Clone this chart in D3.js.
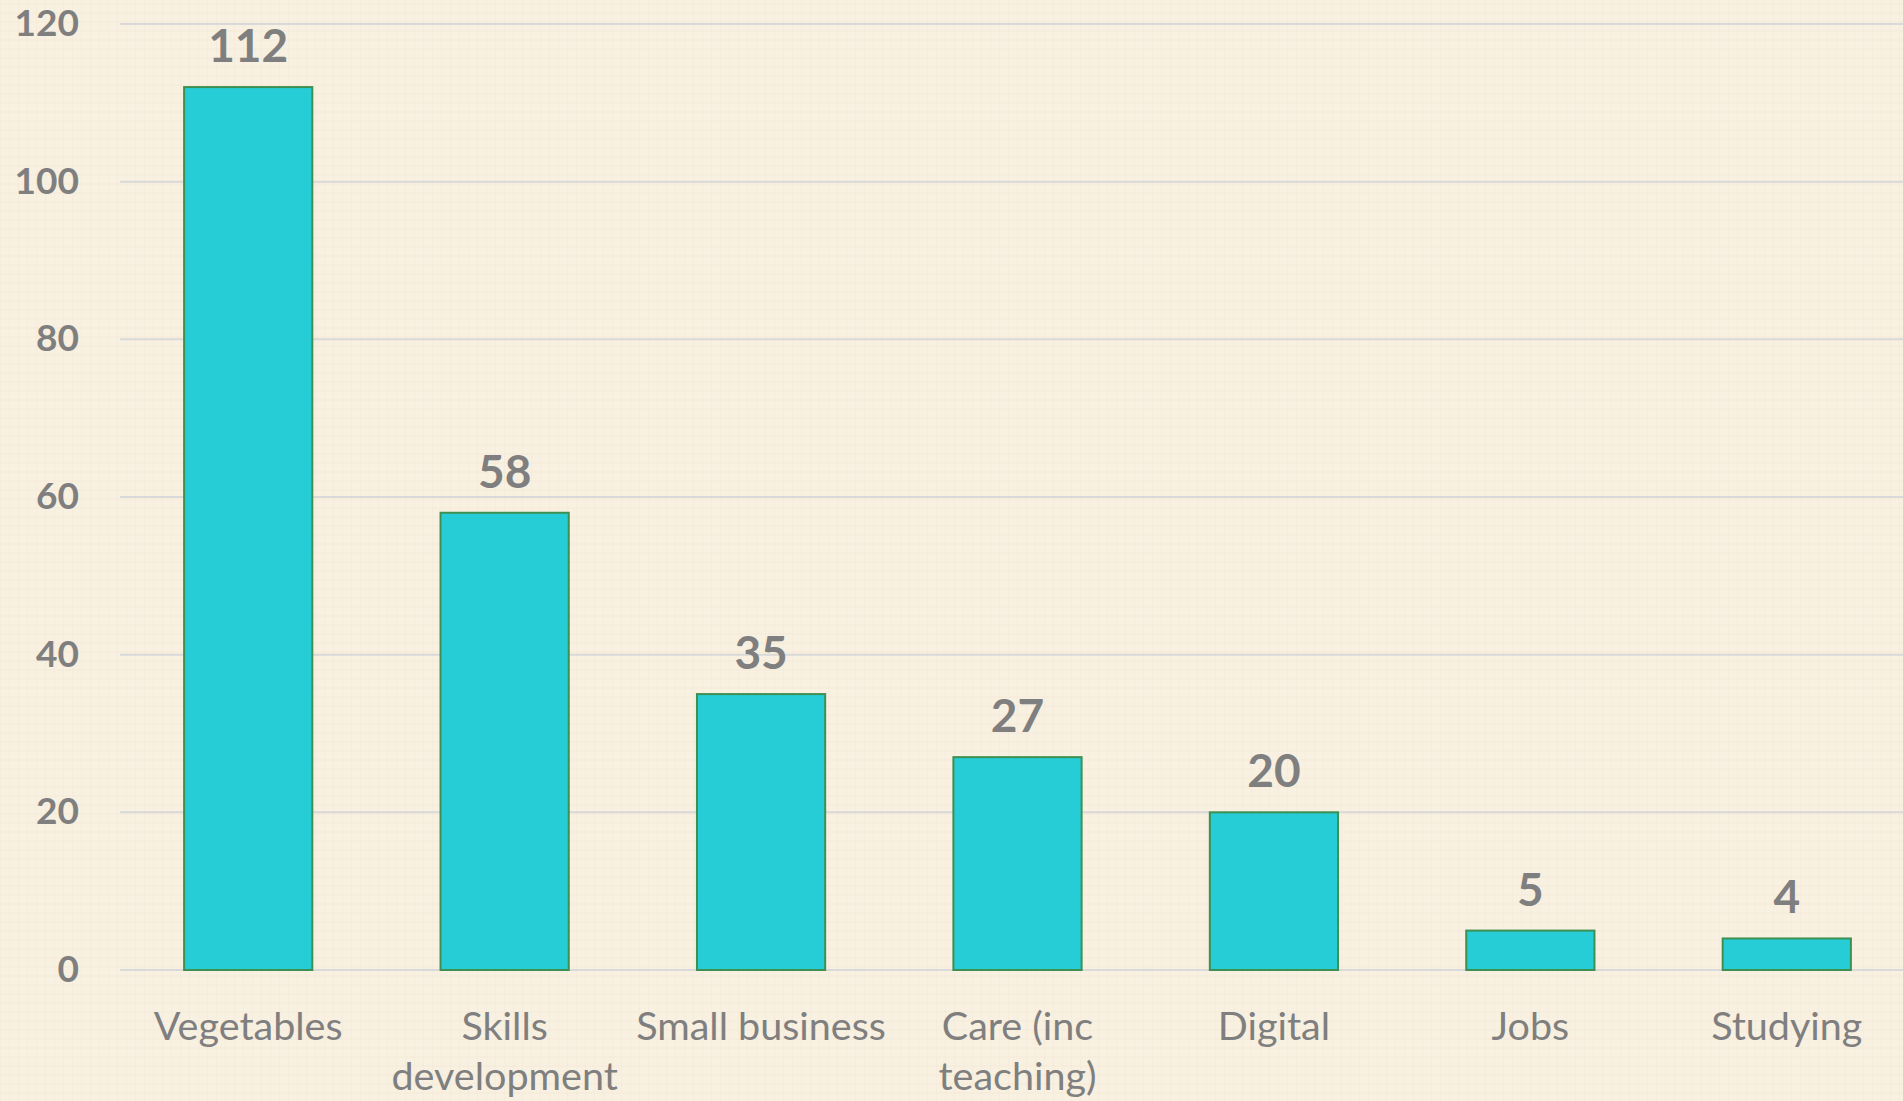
<!DOCTYPE html>
<style>
    body { margin: 0; background: #f8f0e1; overflow: hidden; }
    .grid line { stroke: #d9d9d9; stroke-width: 2px; }
    .bar { fill: #26cdd6; stroke: #3d8f52; stroke-width: 2px; }
    .tick-label { font: bold 37px Lato, sans-serif; fill: #7f7f7f; }
    .value-label { font: bold 46px Lato, sans-serif; fill: #7f7f7f; }
    .cat-label { font: 39.5px Lato, sans-serif; fill: #7f7f7f; }
</style>
<body>
<script src="https://d3js.org/d3.v7.min.js"></script>
<script>
    var categories = ["Vegetables", "Skills development", "Small business", "Care (inc teaching)", "Digital", "Jobs", "Studying"];
    var catLines = [["Vegetables"], ["Skills", "development"], ["Small business"], ["Care (inc", "teaching)"], ["Digital"], ["Jobs"], ["Studying"]];
    var values = [112, 58, 35, 27, 20, 5, 4];
    var yTicks = [0, 20, 40, 60, 80, 100, 120];

    var width = 1903, height = 1101;
    var svg = d3.select("body").append("svg")
        .attr("width", width)
        .attr("height", height);

    // background texture, very faint
    var defs = svg.append("defs");
    var pat = defs.append("pattern")
        .attr("id", "tex").attr("width", 9).attr("height", 9)
        .attr("patternUnits", "userSpaceOnUse");
    pat.append("rect").attr("width", 9).attr("height", 9).attr("fill", "#f8f0e1");
    pat.append("line").attr("x1", 0).attr("y1", 0).attr("x2", 0).attr("y2", 9)
        .attr("stroke", "#f2e8d5").attr("stroke-width", 1);
    pat.append("line").attr("x1", 0).attr("y1", 4).attr("x2", 9).attr("y2", 4)
        .attr("stroke", "#f4ebd9").attr("stroke-width", 1);
    svg.append("rect").attr("width", width).attr("height", height).attr("fill", "url(#tex)");

    var x = d3.scaleBand()
        .domain(categories)
        .range([120, 1915])
        .paddingInner(0.5)
        .paddingOuter(0.25);

    var y = d3.scaleLinear()
        .domain([0, 120])
        .range([970, 24]);

    // gridlines
    svg.append("g").attr("class", "grid")
      .selectAll("line")
      .data(yTicks)
      .enter().append("line")
        .attr("x1", 120).attr("x2", width)
        .attr("y1", function(d) { return y(d); })
        .attr("y2", function(d) { return y(d); });

    // y tick labels
    svg.append("g")
      .selectAll("text")
      .data(yTicks)
      .enter().append("text")
        .attr("class", "tick-label")
        .attr("x", 79)
        .attr("y", function(d) { return y(d) + 12; })
        .attr("text-anchor", "end")
        .text(function(d) { return d; });

    // bars
    svg.append("g")
      .selectAll("rect")
      .data(values)
      .enter().append("rect")
        .attr("class", "bar")
        .attr("x", function(d, i) { return x(categories[i]); })
        .attr("y", function(d) { return y(d); })
        .attr("width", x.bandwidth())
        .attr("height", function(d) { return y(0) - y(d); });

    // value labels
    svg.append("g")
      .selectAll("text")
      .data(values)
      .enter().append("text")
        .attr("class", "value-label")
        .attr("x", function(d, i) { return x(categories[i]) + x.bandwidth() / 2; })
        .attr("y", function(d) { return y(d) - 25; })
        .attr("text-anchor", "middle")
        .text(function(d) { return d; });

    // category labels
    var cats = svg.append("g")
      .selectAll("text")
      .data(categories)
      .enter().append("text")
        .attr("class", "cat-label")
        .attr("text-anchor", "middle")
        .attr("x", function(d) { return x(d) + x.bandwidth() / 2; })
        .attr("y", 1040);
    cats.selectAll("tspan")
      .data(function(d, i) { return catLines[i]; })
      .enter().append("tspan")
        .attr("x", function() { var p = this.parentNode; return p.getAttribute("x"); })
        .attr("dy", function(d, i) { return i === 0 ? 0 : 50; })
        .text(function(d) { return d; });
</script>
</body>
